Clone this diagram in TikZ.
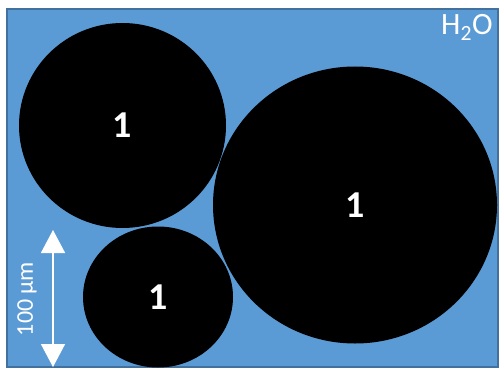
\documentclass[tikz,border=0pt]{standalone}
\usepackage{fontspec}
\setmainfont{Carlito}
\usepackage{tikz}
\usetikzlibrary{arrows.meta,shapes.geometric}
\definecolor{agua}{HTML}{5B9BD5}
\definecolor{aguaborde}{HTML}{41719C}
\tikzset{
  medio/.style={fill=agua,draw=aguaborde,line width=2pt},
  gota/.style={ellipse,fill=black,inner sep=0pt,text=white,
    font=\fontsize{38}{44}\selectfont\bfseries},
  etiqueta/.style={text=white,inner sep=0pt,font=\fontsize{31}{36}\selectfont},
  escala/.style={{Triangle[width=24pt,length=23pt]}-{Triangle[width=24pt,length=23pt]},
    draw=white,line width=1.6pt},
  escalatexto/.style={text=white,inner sep=0pt,rotate=90,font=\fontsize{24}{28}\selectfont}
}
\begin{document}
\begin{tikzpicture}[x=1pt,y=-1pt]
\useasboundingbox (0,0) rectangle (502,371);
\draw[medio] (7,9) rectangle (498,367);
\node[gota,minimum width=207pt,minimum height=205pt] (g1) at (122.5,125.5) {1};
\node[gota,minimum width=150pt,minimum height=141pt] (g2) at (158,297) {1};
\node[gota,minimum width=284pt,minimum height=277pt] (g3) at (355,205) {1};
\node[etiqueta,anchor=base west] (agua) at (441,35) {H\textsubscript{2}O};
\coordinate (esc1) at (53,230);
\coordinate (esc2) at (53,367);
\draw[escala] (esc1) -- (esc2);
\node[escalatexto] (largo) at (27,299) {100 µm};
\end{tikzpicture}
\end{document}
